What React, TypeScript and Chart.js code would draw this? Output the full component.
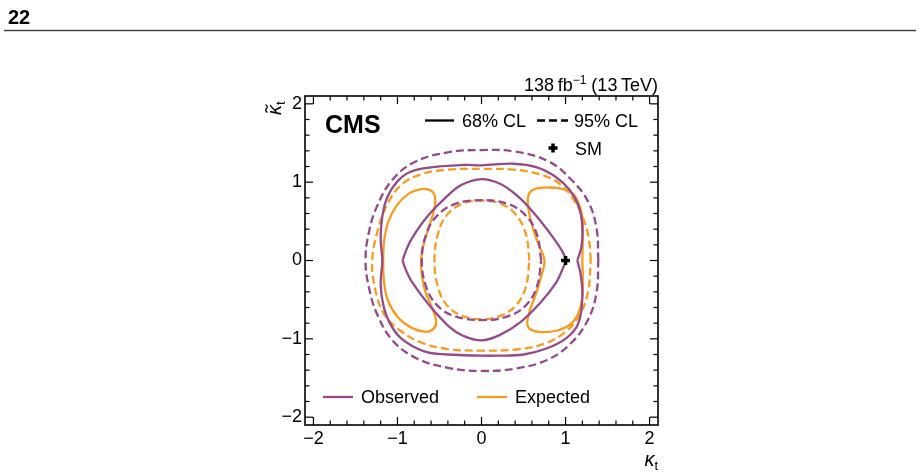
import React, { useEffect, useRef } from "react";
import Chart from "chart.js/auto";

// ---- axis settings ----
const AXIS_MIN = -2.1;
const AXIS_MAX = 2.1;
const X_TICKS = [-2, -1, 0, 1, 2];
const Y_TICKS = [-2, -1, 0, 1, 2];
const MINOR_STEP = 0.2;

// ---- data (kappa_t, kappa~_t) ----
const SM_POINT: number[][] = [[1, 0]];

const OBS_95_OUTER: number[][] = [
  [1.39, 0], [1.37, 0.40], [1.27, 0.75], [1.06, 1.04], [0.79, 1.27], [0.40, 1.39], [0, 1.41],
  [-0.40, 1.38], [-0.79, 1.26], [-1.06, 1.03], [-1.24, 0.70], [-1.34, 0.36], [-1.38, 0],
  [-1.34, -0.34], [-1.24, -0.69], [-1.05, -1.03], [-0.77, -1.25], [-0.40, -1.37], [0, -1.41],
  [0.40, -1.38], [0.78, -1.27], [1.07, -1.05], [1.27, -0.75], [1.37, -0.40], [1.39, 0],
];

const OBS_68_OUTER: number[][] = [
  [1.14, 0], [1.19, 0.18], [1.20, 0.43], [1.16, 0.68], [1.05, 0.90], [0.88, 1.07], [0.66, 1.19],
  [0.38, 1.235], [0, 1.215], [-0.20, 1.22], [-0.60, 1.19], [-0.85, 1.13], [-1.00, 1.01],
  [-1.12, 0.81], [-1.18, 0.56], [-1.20, 0.28], [-1.18, 0], [-1.20, -0.30], [-1.17, -0.56],
  [-1.10, -0.78], [-0.96, -0.99], [-0.68, -1.16], [-0.40, -1.20], [0, -1.215], [0.18, -1.215],
  [0.50, -1.20], [0.78, -1.12], [1.01, -0.99], [1.15, -0.81], [1.20, -0.47], [1.18, -0.18], [1.14, 0],
];

const OBS_68_INNER_UPPER: number[][] = [
  [1.01, 0], [0.96, 0.12], [0.82, 0.34], [0.62, 0.61], [0.42, 0.83], [0.22, 0.98], [0, 1.04],
  [-0.23, 0.97], [-0.39, 0.84], [-0.63, 0.58], [-0.83, 0.28], [-0.90, 0.12], [-0.94, 0],
];
const OBS_68_INNER_LOWER: number[][] = [
  [-0.94, 0], [-0.90, -0.12], [-0.83, -0.27], [-0.63, -0.56], [-0.39, -0.84], [-0.22, -0.96],
  [0, -1.02], [0.22, -0.95], [0.46, -0.79], [0.70, -0.54], [0.89, -0.28], [0.96, -0.12], [1.01, 0],
];

const OBS_95_INNER: number[][] = [
  [0.71, 0], [0.66, 0.33], [0.53, 0.57], [0.32, 0.72], [0, 0.77], [-0.32, 0.72], [-0.53, 0.57],
  [-0.66, 0.33], [-0.71, 0], [-0.66, -0.33], [-0.53, -0.57], [-0.32, -0.71], [0, -0.76],
  [0.32, -0.71], [0.53, -0.57], [0.66, -0.33], [0.71, 0],
];

const EXP_95_OUTER: number[][] = [
  [1.30, 0], [1.28, 0.26], [1.22, 0.51], [1.10, 0.77], [0.93, 0.98], [0.70, 1.10], [0.38, 1.16],
  [0, 1.17], [-0.40, 1.16], [-0.72, 1.10], [-0.95, 0.97], [-1.12, 0.72], [-1.23, 0.40], [-1.30, 0],
  [-1.26, -0.39], [-1.16, -0.68], [-0.96, -0.90], [-0.71, -1.05], [-0.40, -1.13], [0, -1.15],
  [0.46, -1.13], [0.78, -1.05], [1.01, -0.90], [1.17, -0.69], [1.27, -0.39], [1.30, 0],
];

const EXP_95_INNER: number[][] = [
  [0.57, 0], [0.53, 0.33], [0.42, 0.57], [0.24, 0.72], [0, 0.765], [-0.24, 0.72], [-0.42, 0.57],
  [-0.52, 0.33], [-0.56, 0], [-0.52, -0.33], [-0.42, -0.56], [-0.24, -0.70], [0, -0.75],
  [0.24, -0.70], [0.42, -0.56], [0.53, -0.33], [0.57, 0],
];

const EXP_68_RIGHT: number[][] = [
  [1.20, 0], [1.205, 0.30], [1.20, 0.55], [1.16, 0.72], [1.08, 0.86], [0.93, 0.92], [0.75, 0.93],
  [0.61, 0.90], [0.555, 0.82], [0.56, 0.65], [0.61, 0.42], [0.68, 0.20], [0.75, 0], [0.71, -0.20],
  [0.65, -0.42], [0.58, -0.62], [0.545, -0.78], [0.57, -0.87], [0.68, -0.91], [0.88, -0.90],
  [1.05, -0.82], [1.15, -0.68], [1.20, -0.45], [1.205, -0.20], [1.20, 0],
];

const EXP_68_LEFT: number[][] = [
  [-1.17, 0], [-1.16, -0.27], [-1.11, -0.52], [-0.99, -0.73], [-0.83, -0.86], [-0.66, -0.91],
  [-0.57, -0.87], [-0.54, -0.77], [-0.59, -0.60], [-0.67, -0.39], [-0.71, -0.18], [-0.72, 0],
  [-0.69, 0.20], [-0.63, 0.41], [-0.57, 0.62], [-0.55, 0.77], [-0.57, 0.86], [-0.63, 0.905],
  [-0.72, 0.91], [-0.87, 0.85], [-1.01, 0.70], [-1.11, 0.49], [-1.16, 0.24], [-1.17, 0],
];

const PURPLE = "#964a8b";
const ORANGE = "#f89c20";
const FONT = "'Liberation Sans', Arial, Helvetica, sans-serif";
const LINE_W = 2.3;
const DASH = [8, 4];

const fmt = (v: number) => (v < 0 ? "\u2212" + Math.abs(v) : String(v));

const lineDs = (pts: number[][], color: string, dashed: boolean) => ({
  data: pts.map(([x, y]) => ({ x, y })),
  showLine: true,
  borderColor: color,
  backgroundColor: color,
  borderWidth: LINE_W,
  borderDash: dashed ? DASH : [],
  pointRadius: 0,
  pointHoverRadius: 0,
  tension: 0.4,
  fill: false,
});

const decorPlugin = {
  id: "decor",
  afterDraw(chart: any) {
    const { ctx, chartArea: a, scales } = chart;
    const xs = scales.x;
    const ys = scales.y;
    ctx.save();
    const seg = (x1: number, y1: number, x2: number, y2: number) => {
      ctx.beginPath();
      ctx.moveTo(x1, y1);
      ctx.lineTo(x2, y2);
      ctx.stroke();
    };
    // header
    ctx.fillStyle = "#000";
    ctx.font = `bold 20px ${FONT}`;
    ctx.textBaseline = "alphabetic";
    ctx.textAlign = "left";
    ctx.fillText("22", 8, 24);
    ctx.strokeStyle = "#444";
    ctx.lineWidth = 1.3;
    seg(4, 30.5, 916, 30.5);

    // frame
    ctx.strokeStyle = "#000";
    ctx.lineWidth = 1.6;
    ctx.strokeRect(a.left, a.top, a.right - a.left, a.bottom - a.top);
    // inward ticks
    ctx.lineWidth = 1.2;
    for (let i = -10; i <= 10; i++) {
      const v = i * MINOR_STEP;
      const len = i % 5 === 0 ? 8 : 4.5;
      const px = xs.getPixelForValue(v);
      seg(px, a.bottom, px, a.bottom - len);
      seg(px, a.top, px, a.top + len);
      const py = ys.getPixelForValue(v);
      seg(a.left, py, a.left + len, py);
      seg(a.right, py, a.right - len, py);
    }

    // CMS label
    ctx.font = `bold 25px ${FONT}`;
    ctx.fillText("CMS", a.left + 20, a.top + 37);

    // lumi label
    const big = `18px ${FONT}`;
    const small = `12px ${FONT}`;
    const p1 = "138\u2009fb";
    const p2 = "\u22121";
    const p3 = " (13\u2009TeV)";
    ctx.font = big;
    const w1 = ctx.measureText(p1).width;
    const w3 = ctx.measureText(p3).width;
    ctx.font = small;
    const w2 = ctx.measureText(p2).width;
    let lx = a.right - (w1 + w2 + w3);
    const lb = a.top - 5;
    ctx.font = big;
    ctx.fillText(p1, lx, lb);
    lx += w1;
    ctx.font = small;
    ctx.fillText(p2, lx, lb - 7);
    lx += w2;
    ctx.font = big;
    ctx.fillText(p3, lx, lb);

    // x-axis title
    ctx.font = `italic 20px ${FONT}`;
    const kw = ctx.measureText("\u03ba").width;
    ctx.font = `13px ${FONT}`;
    const tw = ctx.measureText("t").width;
    const xt = a.right - kw - tw;
    ctx.font = `italic 20px ${FONT}`;
    ctx.fillText("\u03ba", xt, 466);
    ctx.font = `13px ${FONT}`;
    ctx.fillText("t", xt + kw, 470);

    // y-axis title (rotated) with tilde accent
    ctx.save();
    ctx.translate(281, a.top + 19);
    ctx.rotate(-Math.PI / 2);
    ctx.font = `italic 20px ${FONT}`;
    const kw2 = ctx.measureText("\u03ba").width;
    ctx.fillText("\u03ba", 0, 0);
    const cx = kw2 / 2 + 1.5;
    ctx.lineWidth = 1.3;
    ctx.strokeStyle = "#000";
    ctx.beginPath();
    ctx.moveTo(cx - 4, -13.5);
    ctx.quadraticCurveTo(cx - 2, -16.5, cx, -14.5);
    ctx.quadraticCurveTo(cx + 2, -12.5, cx + 4, -15.5);
    ctx.stroke();
    ctx.font = `13px ${FONT}`;
    ctx.fillText("t", kw2, 4);
    ctx.restore();

    // top legend
    ctx.font = big;
    ctx.strokeStyle = "#000";
    ctx.lineWidth = LINE_W;
    seg(425, 120.5, 454, 120.5);
    ctx.fillText("68% CL", 462, 127);
    ctx.setLineDash(DASH);
    seg(537, 120.5, 568, 120.5);
    ctx.setLineDash([]);
    ctx.fillText("95% CL", 574, 127);
    // SM marker in legend
    ctx.lineWidth = 3.5;
    seg(548.5, 148, 557.5, 148);
    seg(553, 143.5, 553, 152.5);
    ctx.fillText("SM", 575, 155);

    // bottom legend
    ctx.lineWidth = LINE_W;
    ctx.strokeStyle = PURPLE;
    seg(323, 397, 353, 397);
    ctx.fillText("Observed", 361, 403);
    ctx.strokeStyle = ORANGE;
    seg(477, 397, 507, 397);
    ctx.fillText("Expected", 515, 403);

    ctx.restore();
  },
};

export default function App() {
  const ref = useRef<HTMLCanvasElement | null>(null);
  useEffect(() => {
    if (!ref.current) return;
    const chart = new Chart(ref.current, {
      type: "scatter",
      data: {
        datasets: [
          {
            data: SM_POINT.map(([x, y]) => ({ x, y })),
            pointStyle: "cross",
            pointRadius: 4.5,
            borderWidth: 3.5,
            borderColor: "#000",
            backgroundColor: "#000",
            showLine: false,
          } as any,
          lineDs(OBS_68_INNER_UPPER, PURPLE, false),
          lineDs(OBS_68_INNER_LOWER, PURPLE, false),
          lineDs(OBS_68_OUTER, PURPLE, false),
          lineDs(OBS_95_INNER, PURPLE, true),
          lineDs(OBS_95_OUTER, PURPLE, true),
          lineDs(EXP_68_LEFT, ORANGE, false),
          lineDs(EXP_68_RIGHT, ORANGE, false),
          lineDs(EXP_95_INNER, ORANGE, true),
          lineDs(EXP_95_OUTER, ORANGE, true),
        ],
      },
      options: {
        animation: false,
        responsive: false,
        devicePixelRatio: 1,
        events: [],
        layout: { padding: { top: 96, right: 262, left: 0, bottom: 0 } },
        plugins: { legend: { display: false }, tooltip: { enabled: false } },
        scales: {
          x: {
            type: "linear",
            min: AXIS_MIN,
            max: AXIS_MAX,
            grid: { display: false, drawTicks: false },
            border: { display: false },
            ticks: {
              color: "#000",
              font: { family: FONT, size: 18 },
              padding: 3,
              maxRotation: 0,
              autoSkip: false,
              callback: (v: any) => fmt(Number(v)),
            },
            afterBuildTicks: (s: any) => {
              s.ticks = X_TICKS.map((v) => ({ value: v }));
            },
            afterFit: (s: any) => {
              s.height = 51;
            },
          },
          y: {
            type: "linear",
            min: AXIS_MIN,
            max: AXIS_MAX,
            grid: { display: false, drawTicks: false },
            border: { display: false },
            ticks: {
              color: "#000",
              font: { family: FONT, size: 18 },
              padding: 3,
              autoSkip: false,
              callback: (v: any) => fmt(Number(v)),
            },
            afterBuildTicks: (s: any) => {
              s.ticks = Y_TICKS.map((v) => ({ value: v }));
            },
            afterFit: (s: any) => {
              s.width = 305;
            },
          },
        },
      } as any,
      plugins: [decorPlugin],
    });
    return () => chart.destroy();
  }, []);
  return (
    <div style={{ position: "absolute", left: 0, top: 0, width: 920, height: 476, background: "#fff" }}>
      <canvas ref={ref} width={920} height={476} style={{ width: 920, height: 476, display: "block" }} />
    </div>
  );
}
